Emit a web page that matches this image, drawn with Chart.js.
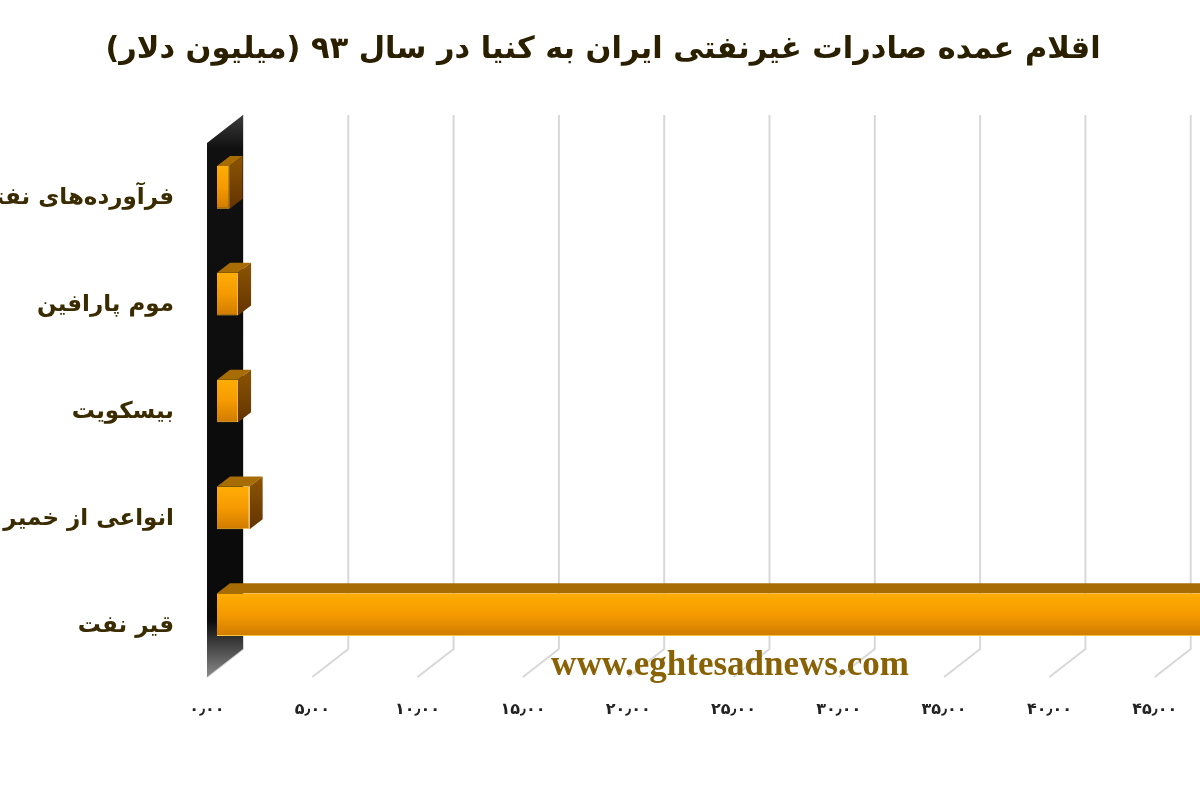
<!DOCTYPE html>
<html lang="fa">
<head>
<meta charset="utf-8">
<title>chart</title>
<style>
html,body{margin:0;padding:0;background:#fff;overflow:hidden}
canvas{display:block;direction:rtl;filter:blur(0.6px)}
</style>
<script src="https://cdn.jsdelivr.net/npm/chart.js@4"></script>
</head>
<body>
<canvas id="c" width="1200" height="800"></canvas>
<script>
const titleText = "اقلام عمده صادرات غیرنفتی ایران به کنیا در سال ۹۳ (میلیون دلار)";
const categories = ["فرآورده‌های نفتی", "موم پارافین", "بیسکویت", "انواعی از خمیر", "قیر نفت"];
const values = [0.6, 1.0, 1.0, 1.55, 48];
const watermark = "www.eghtesadnews.com";
const faDigits = "۰۱۲۳۴۵۶۷۸۹";

const wallDX = 36, wallDY = 28;   // depth of the back wall
const barDX = 13, barDY = 10;     // depth of a bar
const shiftX = 10, shiftY = -9;   // bar position inside the depth

function fmt(v){
  return (v.toFixed(2).replace(".", "٫")).replace(/\d/g, d => faDigits[+d]);
}
function poly(ctx, pts, fill){
  ctx.beginPath();
  pts.forEach((p, i) => i ? ctx.lineTo(p[0], p[1]) : ctx.moveTo(p[0], p[1]));
  ctx.closePath();
  ctx.fillStyle = fill;
  ctx.fill();
}

const depth3d = {
  id: "depth3d",
  afterLayout(chart){
    if (chart.titleBlock) chart.titleBlock.left = 6;
  },
  beforeDatasetsDraw(chart){
    const {ctx, chartArea: a, scales: {x}} = chart;
    ctx.save();
    // grid lines: floor diagonal then back wall
    ctx.strokeStyle = "#d8d8d8";
    ctx.lineWidth = 2;
    x.ticks.forEach(t => {
      const px = x.getPixelForValue(t.value);
      ctx.beginPath();
      ctx.moveTo(px, a.bottom);
      ctx.lineTo(px + wallDX, a.bottom - wallDY);
      ctx.lineTo(px + wallDX, a.top - wallDY);
      ctx.stroke();
    });
    // side wall
    const g = ctx.createLinearGradient(0, a.top - wallDY, 0, a.bottom);
    g.addColorStop(0, "#3c3c3c");
    g.addColorStop(0.06, "#101010");
    g.addColorStop(0.9, "#0a0a0a");
    g.addColorStop(1, "#8a8a8a");
    poly(ctx, [[a.left, a.top], [a.left + wallDX, a.top - wallDY],
               [a.left + wallDX, a.bottom - wallDY], [a.left, a.bottom]], g);
    // bar depth faces and shift of the bars
    ctx.translate(shiftX, shiftY);
    chart.getDatasetMeta(0).data.forEach(b => {
      const top = b.y - b.height / 2, bot = b.y + b.height / 2;
      const x0 = b.base, x1 = b.x;
      poly(ctx, [[x0, top], [x0 + barDX, top - barDY], [x1 + barDX, top - barDY], [x1, top]], "#a86c04");
      const side = ctx.createLinearGradient(0, top - barDY, 0, bot);
      side.addColorStop(0, "#8c5403");
      side.addColorStop(1, "#633402");
      poly(ctx, [[x1, top], [x1 + barDX, top - barDY], [x1 + barDX, bot - barDY], [x1, bot]], side);
    });
  },
  afterDatasetsDraw(chart){
    chart.ctx.restore();
  },
  afterDraw(chart){
    const {ctx} = chart;
    ctx.save();
    ctx.direction = "ltr";
    ctx.font = "bold 35px 'Liberation Serif'";
    ctx.fillStyle = "#8a6206";
    ctx.textAlign = "center";
    ctx.textBaseline = "middle";
    ctx.fillText(watermark, 730, 666);
    ctx.restore();
  }
};

new Chart(document.getElementById("c"), {
  type: "bar",
  data: {
    labels: categories,
    datasets: [{
      data: values,
      barPercentage: 0.4,
      categoryPercentage: 1,
      borderWidth: {top: 0, left: 0, right: 1, bottom: 1},
      borderSkipped: false,
      borderColor: "#ffc63a",
      backgroundColor(c){
        const {chart, dataIndex} = c;
        const y = chart.scales.y;
        const cy = y ? y.getPixelForValue(dataIndex) : NaN;
        if (!Number.isFinite(cy)) return "#f09a00";
        const g = chart.ctx.createLinearGradient(0, cy - 22, 0, cy + 22);
        g.addColorStop(0, "#ffae05");
        g.addColorStop(0.5, "#f59a02");
        g.addColorStop(1, "#cf7a00");
        return g;
      }
    }]
  },
  options: {
    indexAxis: "y",
    responsive: false,
    animation: false,
    devicePixelRatio: 1,
    layout: {padding: 0},
    plugins: {
      legend: {display: false},
      tooltip: {enabled: false},
      title: {
        display: true,
        text: titleText,
        color: "#2a2000",
        font: {family: "'DejaVu Sans'", size: 30.4, weight: "bold", lineHeight: 1.2},
        padding: {top: 32, bottom: 74.5}
      }
    },
    scales: {
      x: {
        type: "linear",
        min: 0,
        max: 47.15,
        grid: {display: false},
        border: {display: false},
        afterFit(s){ s.height = 123; },
        ticks: {
          stepSize: 5,
          includeBounds: false,
          autoSkip: false,
          maxRotation: 0,
          padding: 15,
          color: "#222222",
          font: {family: "'DejaVu Sans'", size: 16, weight: "bold"},
          callback: v => fmt(v)
        }
      },
      y: {
        type: "category",
        grid: {display: false},
        border: {display: false},
        afterFit(s){ s.width = 207; },
        ticks: {
          padding: 25,
          crossAlign: "near",
          labelOffset: 2,
          autoSkip: false,
          color: "#3a2c00",
          font: {family: "'DejaVu Sans'", size: 23, weight: "bold"}
        }
      }
    }
  },
  plugins: [depth3d]
});
</script>
</body>
</html>
